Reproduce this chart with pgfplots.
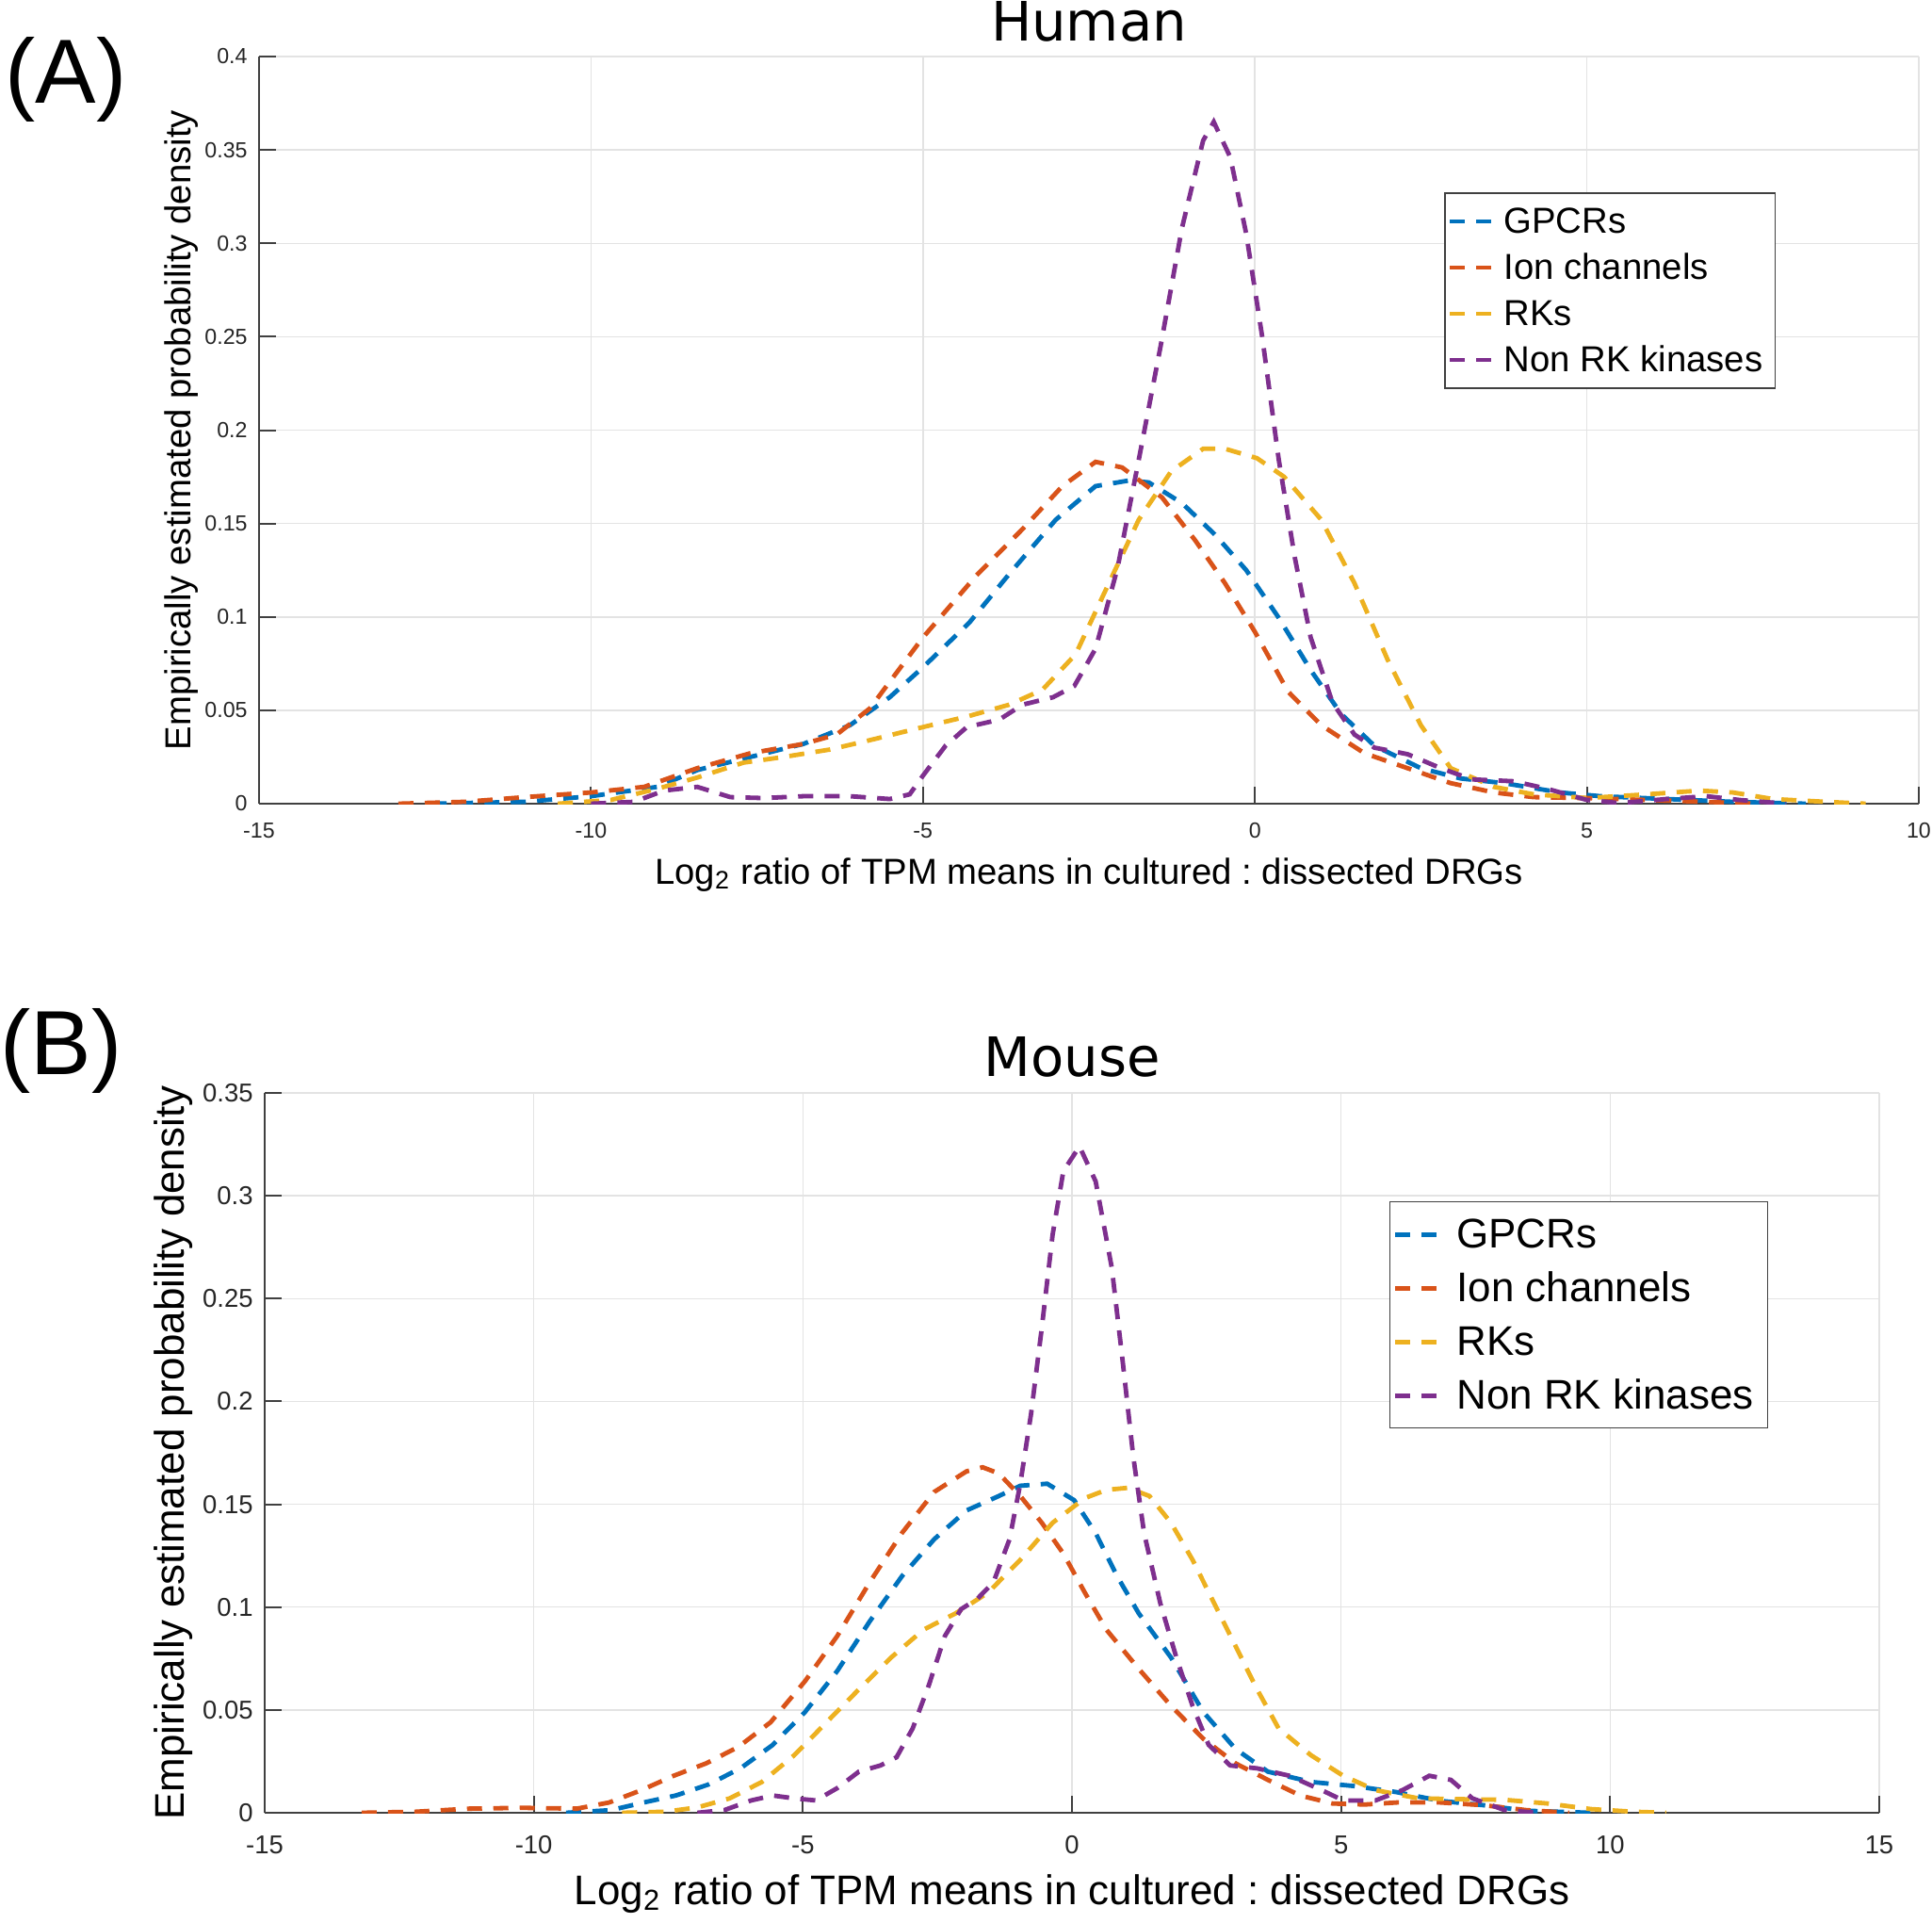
\documentclass[border=0pt]{standalone}
\usepackage{fontspec}
\setmainfont{Liberation Sans}
\newfontfamily\dejavu{DejaVu Sans}
\usepackage{pgfplots}
\pgfplotsset{compat=1.18}
\frenchspacing

\definecolor{mblue}{rgb}{0,0.447,0.741}
\definecolor{mred}{rgb}{0.85,0.325,0.098}
\definecolor{myellow}{rgb}{0.929,0.694,0.125}
\definecolor{mpurple}{rgb}{0.494,0.184,0.556}
\definecolor{axcol}{HTML}{404040}
\definecolor{txtcol}{HTML}{262626}
\definecolor{gridcol}{HTML}{E3E3E3}

\pgfplotsset{
  dens/.style={
    scale only axis,
    axis x line*=bottom, axis y line*=left,
    axis line style={-, draw=axcol, line width=0.02cm},
    grid=major, grid style={draw=gridcol, line width=0.015cm},
    tick align=inside, major tick length=0.18cm,
    tick style={draw=axcol, line width=0.02cm},
    ticklabel style={text=txtcol},
    enlargelimits=false,
    legend cell align=left,
    legend image code/.code={\draw[##1] (0cm,0cm) -- (0.45cm,0cm);},
  },
  ds/.style={dash pattern=on 0.16cm off 0.12cm, line width=0.048cm},
}

\begin{document}
\begin{tikzpicture}
\useasboundingbox (0,0) rectangle (20.51,-20.41);

% (A) Human
\begin{axis}[dens,
  at={(2.75cm,-8.53cm)}, anchor=south west,
  width=17.62cm, height=7.93cm,
  xmin=-15, xmax=10, ymin=0, ymax=0.4,
  xtick={-15,-10,-5,0,5,10}, xticklabels={-15,-10,-5,0,5,10},
  ytick={0,0.05,0.1,0.15,0.2,0.25,0.3,0.35,0.4},
  yticklabels={0,0.05,0.1,0.15,0.2,0.25,0.3,0.35,0.4},
  ticklabel style={font=\fontsize{6.6}{7.9}\selectfont},
  xticklabel style={yshift=-0.08cm},
  title={Human},
  title style={font=\dejavu\fontsize{16.4}{19}\selectfont, at={(axis description cs:0.5,1.0214)}, anchor=base, yshift=-6pt},
  xlabel={Log\textsubscript{2} ratio of TPM means in cultured : dissected DRGs},
  xlabel style={font=\fontsize{10.9}{13}\selectfont, at={(axis description cs:0.5,-0.1072)}, anchor=base},
  ylabel={Empirically estimated probability density},
  ylabel style={font=\fontsize{10.9}{13}\selectfont, at={(axis description cs:-0.0409,0.5)}, anchor=base},
  legend style={at={(0.714,0.818)}, anchor=north west, draw=axcol, line width=0.015cm,
    fill=white, inner xsep=0.03cm, inner ysep=0.055cm, row sep=0pt,
    font=\fontsize{10.9}{13}\selectfont,
    nodes={text height=0.3cm, text depth=0.05cm, inner ysep=0.07cm, inner xsep=0.1cm}},
]
\addplot[ds, mblue] coordinates {(-12.4,0) (-11,0.001) (-10,0.004) (-9,0.009) (-8.4,0.018) (-7.6,0.025) (-6.8,0.032) (-6.1,0.042) (-5.5,0.057) (-5,0.073) (-4.3,0.097) (-3.7,0.123) (-3.0,0.152) (-2.4,0.170) (-1.9,0.173) (-1.6,0.172) (-1.1,0.161) (-0.6,0.144) (-0.13,0.125) (0.35,0.1) (0.85,0.071) (1.3,0.048) (1.8,0.031) (2.5,0.019) (3.1,0.0135) (3.75,0.011) (4.6,0.006) (5.2,0.004) (6.2,0.0025) (7.2,0.001) (8.3,0)};
\addlegendentry{GPCRs}
\addplot[ds, mred] coordinates {(-12.9,0) (-11.9,0.001) (-11,0.0035) (-10,0.006) (-9.2,0.009) (-8.4,0.019) (-7.6,0.027) (-6.8,0.032) (-6.3,0.037) (-5.8,0.051) (-5,0.089) (-4.2,0.122) (-3.5,0.147) (-2.9,0.17) (-2.4,0.183) (-2.0,0.18) (-1.4,0.164) (-0.9,0.141) (-0.45,0.118) (0,0.092) (0.5,0.06) (1,0.042) (1.65,0.027) (2.3,0.019) (2.95,0.011) (3.6,0.006) (4.2,0.0035) (5,0.003) (5.9,0.002) (6.8,0.001) (7.5,0)};
\addlegendentry{Ion channels}
\addplot[ds, myellow] coordinates {(-10.5,0) (-9.7,0.002) (-9.0,0.008) (-8.4,0.014) (-7.7,0.022) (-7.1,0.025) (-6.4,0.029) (-5.8,0.034) (-5,0.041) (-4.3,0.047) (-3.7,0.053) (-3.2,0.061) (-2.7,0.08) (-2.2,0.118) (-1.75,0.152) (-1.26,0.178) (-0.78,0.19) (-0.45,0.19) (0.03,0.185) (0.44,0.175) (1.0,0.152) (1.5,0.118) (2.0,0.077) (2.5,0.042) (2.95,0.019) (3.6,0.009) (4.2,0.005) (5,0.003) (5.9,0.005) (6.7,0.007) (7.2,0.006) (7.8,0.0025) (8.6,0.001) (9.2,0)};
\addlegendentry{RKs}
\addplot[ds, mpurple] coordinates {(-10,0) (-9.35,0.001) (-8.9,0.007) (-8.4,0.009) (-7.9,0.0035) (-7.4,0.003) (-6.8,0.004) (-6.1,0.004) (-5.5,0.0025) (-5.2,0.005) (-5,0.015) (-4.66,0.031) (-4.34,0.041) (-3.85,0.045) (-3.5,0.053) (-3.04,0.057) (-2.72,0.063) (-2.4,0.083) (-2.07,0.126) (-1.75,0.184) (-1.42,0.245) (-1.1,0.308) (-0.78,0.355) (-0.62,0.365) (-0.37,0.346) (-0.13,0.305) (0.11,0.25) (0.36,0.184) (0.6,0.132) (0.84,0.089) (1.17,0.054) (1.5,0.037) (1.8,0.03) (2.3,0.0265) (2.8,0.019) (3.27,0.013) (3.9,0.012) (4.4,0.008) (5,0.002) (5.5,0.0003) (6.2,0.0025) (6.8,0.004) (7.3,0.002) (8.0,0)};
\addlegendentry{Non RK kinases}
\end{axis}

% (B) Mouse
\begin{axis}[dens,
  at={(2.81cm,-19.24cm)}, anchor=south west,
  width=17.14cm, height=7.64cm,
  xmin=-15, xmax=15, ymin=0, ymax=0.35,
  xtick={-15,-10,-5,0,5,10,15}, xticklabels={-15,-10,-5,0,5,10,15},
  ytick={0,0.05,0.1,0.15,0.2,0.25,0.3,0.35},
  yticklabels={0,0.05,0.1,0.15,0.2,0.25,0.3,0.35},
  ticklabel style={font=\fontsize{7.8}{9.3}\selectfont},
  xticklabel style={yshift=-0.12cm},
  title={Mouse},
  title style={font=\dejavu\fontsize{16.4}{19}\selectfont, at={(axis description cs:0.5,1.0223)}, anchor=base, yshift=-6pt},
  xlabel={Log\textsubscript{2} ratio of TPM means in cultured : dissected DRGs},
  xlabel style={font=\fontsize{12.5}{15}\selectfont, at={(axis description cs:0.5,-0.127)}, anchor=base},
  ylabel={Empirically estimated probability density},
  ylabel style={font=\fontsize{12.5}{15}\selectfont, at={(axis description cs:-0.0496,0.5)}, anchor=base},
  legend style={at={(0.6966,0.8495)}, anchor=north west, draw=axcol, line width=0.015cm,
    fill=white, inner xsep=0.03cm, inner ysep=0.06cm, row sep=0pt,
    font=\fontsize{12.5}{15}\selectfont,
    nodes={text height=0.34cm, text depth=0.06cm, inner ysep=0.085cm, inner xsep=0.12cm}},
  legend image code/.code={\draw[#1] (0cm,0cm) -- (0.51cm,0cm);},
]
\addplot[ds, mblue] coordinates {(-9.4,0) (-8.56,0.0013) (-7.96,0.005) (-7.36,0.0084) (-6.76,0.0137) (-6.16,0.0216) (-5.56,0.033) (-4.96,0.049) (-4.36,0.069) (-3.76,0.093) (-3.16,0.115) (-2.56,0.133) (-1.96,0.147) (-1.36,0.154) (-0.96,0.159) (-0.46,0.16) (0.04,0.152) (0.44,0.136) (0.84,0.115) (1.24,0.097) (1.84,0.0755) (2.44,0.049) (3.04,0.031) (3.64,0.02) (4.44,0.015) (5.24,0.013) (6.04,0.01) (6.84,0.0058) (7.64,0.0037) (8.44,0.001) (9.64,0)};
\addlegendentry{GPCRs}
\addplot[ds, mred] coordinates {(-13.2,0) (-12.2,0.0005) (-11.2,0.002) (-10.2,0.0024) (-9.2,0.002) (-8.6,0.005) (-8,0.011) (-7.4,0.018) (-6.8,0.024) (-6.2,0.032) (-5.6,0.044) (-4.96,0.064) (-4.36,0.086) (-3.76,0.112) (-3.16,0.136) (-2.56,0.156) (-1.96,0.166) (-1.66,0.168) (-1.36,0.165) (-0.96,0.154) (-0.56,0.141) (-0.16,0.126) (0.24,0.107) (0.64,0.089) (1.24,0.07) (1.84,0.052) (2.44,0.036) (3.04,0.024) (3.64,0.016) (4.24,0.0084) (4.84,0.0045) (5.44,0.004) (6.04,0.005) (6.84,0.005) (7.64,0.0037) (8.44,0.0013) (9.24,0)};
\addlegendentry{Ion channels}
\addplot[ds, myellow] coordinates {(-8.36,0) (-7.56,0.0005) (-6.96,0.0026) (-6.36,0.007) (-5.76,0.015) (-5.16,0.028) (-4.56,0.044) (-3.96,0.06) (-3.36,0.0755) (-2.76,0.089) (-2.16,0.097) (-1.56,0.107) (-0.96,0.123) (-0.36,0.141) (0.24,0.153) (0.64,0.157) (1.04,0.158) (1.44,0.154) (1.84,0.141) (2.24,0.123) (2.64,0.102) (3.04,0.081) (3.44,0.06) (3.84,0.041) (4.44,0.028) (5.04,0.018) (5.64,0.011) (6.44,0.007) (7.24,0.0066) (8.04,0.0063) (8.84,0.0045) (9.64,0.0018) (10.44,0.0005) (11.04,0)};
\addlegendentry{RKs}
\addplot[ds, mpurple] coordinates {(-6.96,0) (-6.46,0.0013) (-5.96,0.006) (-5.56,0.0084) (-5.16,0.007) (-4.76,0.006) (-4.36,0.012) (-3.96,0.02) (-3.56,0.023) (-3.26,0.027) (-2.96,0.041) (-2.66,0.062) (-2.36,0.086) (-2.06,0.099) (-1.76,0.104) (-1.46,0.112) (-1.16,0.133) (-0.96,0.16) (-0.76,0.194) (-0.56,0.236) (-0.36,0.281) (-0.16,0.312) (0.14,0.324) (0.44,0.307) (0.74,0.265) (0.94,0.22) (1.14,0.173) (1.34,0.136) (1.64,0.102) (1.94,0.0755) (2.24,0.052) (2.54,0.033) (2.94,0.023) (3.44,0.0216) (4.04,0.018) (4.64,0.011) (5.04,0.006) (5.64,0.006) (6.14,0.011) (6.64,0.018) (7.04,0.016) (7.44,0.007) (8.04,0.0013) (8.64,0)};
\addlegendentry{Non RK kinases}
\end{axis}

\node[anchor=base west, inner sep=0, font=\fontsize{27.5}{32}\selectfont] at (0.05,-1.10) {(A)};
\node[anchor=base west, inner sep=0, font=\fontsize{27.5}{32}\selectfont] at (0.0,-11.40) {(B)};
\end{tikzpicture}
\end{document}
